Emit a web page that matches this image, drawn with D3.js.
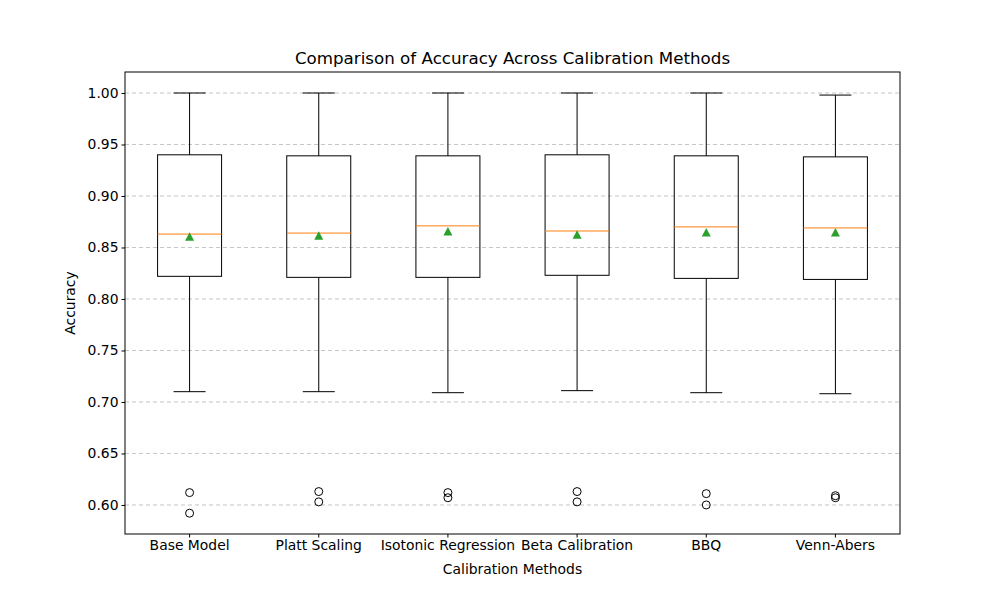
<!DOCTYPE html>
<html><head><meta charset="utf-8">
<script src="https://cdn.jsdelivr.net/npm/d3@7"></script>
<style>body{margin:0;background:#fff}text{font-family:"DejaVu Sans",sans-serif}</style>
</head><body>
<svg id="c" width="1000" height="600"></svg>
<script>
const methods = ["Base Model","Platt Scaling","Isotonic Regression","Beta Calibration","BBQ","Venn-Abers"];
const whiskerHigh = [1.000,1.000,1.000,1.000,1.000,0.998];
const q3 = [0.940,0.939,0.939,0.940,0.939,0.938];
const medians = [0.863,0.864,0.871,0.866,0.870,0.869];
const means = [0.860,0.861,0.865,0.862,0.864,0.864];
const q1 = [0.822,0.821,0.821,0.823,0.820,0.819];
const whiskerLow = [0.710,0.710,0.709,0.711,0.709,0.708];
const outliers = [[0.612,0.592],[0.613,0.603],[0.612,0.607],[0.613,0.603],[0.611,0.600],[0.609,0.607]];
const yTicks = [0.60,0.65,0.70,0.75,0.80,0.85,0.90,0.95,1.00];

const L=125,R=900,T=72,B=534;
const svg=d3.select("#c");
const x=d3.scaleBand().domain(methods).range([L,R]).paddingInner(0).paddingOuter(0);
const y=d3.scaleLinear().domain([0.5718,1.0204]).range([B,T]);
const bw=64, cap=32;

// grid
svg.append("g").selectAll("line").data(yTicks).join("line")
 .attr("x1",L).attr("x2",R).attr("y1",d=>y(d)).attr("y2",d=>y(d))
 .attr("stroke","#b0b0b0").attr("stroke-width",0.9).attr("stroke-dasharray","4,3").attr("opacity",0.8);

const g=svg.append("g").selectAll("g").data(methods).join("g");
const cx=d=>x(d)+x.bandwidth()/2;
g.each(function(m,i){
  const s=d3.select(this), c=cx(m);
  const ln=(x1,y1,x2,y2,col)=>s.append("line").attr("x1",x1).attr("y1",y1).attr("x2",x2).attr("y2",y2).attr("stroke",col||"#000").attr("stroke-width",1);
  ln(c,y(q3[i]),c,y(whiskerHigh[i])); ln(c,y(q1[i]),c,y(whiskerLow[i]));
  ln(c-cap/2,y(whiskerHigh[i]),c+cap/2,y(whiskerHigh[i])); ln(c-cap/2,y(whiskerLow[i]),c+cap/2,y(whiskerLow[i]));
  s.append("rect").attr("x",c-bw/2).attr("y",y(q3[i])).attr("width",bw).attr("height",y(q1[i])-y(q3[i]))
   .attr("fill","none").attr("stroke","#000");
  ln(c-bw/2,y(medians[i]),c+bw/2,y(medians[i]),"#ff7f0e");
  const ym=y(means[i]);
  s.append("path").attr("d",`M${c},${ym-5}L${c+4.5},${ym+3.5}L${c-4.5},${ym+3.5}Z`).attr("fill","#2ca02c");
  s.selectAll("circle").data(outliers[i]).join("circle").attr("cx",c).attr("cy",d=>y(d)).attr("r",4)
   .attr("fill","none").attr("stroke","#000");
});

svg.append("rect").attr("x",L).attr("y",T).attr("width",R-L).attr("height",B-T).attr("fill","none").attr("stroke","#000");

const ya=svg.append("g").attr("transform",`translate(${L},0)`).call(d3.axisLeft(y).tickValues(yTicks).tickFormat(d3.format(".2f")).tickSize(3.5).tickSizeOuter(0));
const xa=svg.append("g").attr("transform",`translate(0,${B})`).call(d3.axisBottom(x).tickSize(3.5).tickSizeOuter(0));
[ya,xa].forEach(a=>{a.select(".domain").remove();a.selectAll("text").attr("font-size",13.9).attr("fill","#000").style("font-family","DejaVu Sans");});

svg.append("text").attr("x",(L+R)/2).attr("y",64).attr("text-anchor","middle").attr("font-size",16.7).text("Comparison of Accuracy Across Calibration Methods");
svg.append("text").attr("x",(L+R)/2).attr("y",574).attr("text-anchor","middle").attr("font-size",13.9).text("Calibration Methods");
svg.append("text").attr("transform",`translate(75,${(T+B)/2}) rotate(-90)`).attr("text-anchor","middle").attr("font-size",13.9).text("Accuracy");
</script>
</body></html>
